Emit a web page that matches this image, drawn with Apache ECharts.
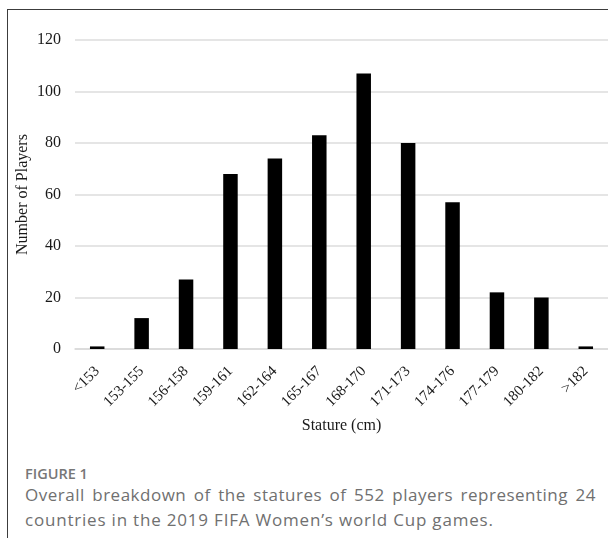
<!DOCTYPE html>
<html>
<head>
<meta charset="utf-8">
<script src="https://cdn.jsdelivr.net/npm/echarts@6/dist/echarts.min.js"></script>
<style>
  html, body { margin: 0; padding: 0; width: 608px; height: 538px; overflow: hidden; background: #fff; }
  #frame { position: absolute; left: 7px; top: 9px; width: 700px; height: 600px; border-left: 1.5px solid #3c3c3c; border-top: 1.5px solid #3c3c3c; }
  #chart { position: absolute; left: 0; top: 0; width: 608px; height: 450px; }
  .cap { position: absolute; font-family: "Open Sans", sans-serif; color: #707070; white-space: nowrap; }
  #fig { left: 25px; top: 465px; font-size: 14.5px; line-height: 17px; font-weight: 600; color: #777; }
  #l1 { left: 25px; top: 482px; width: 571px; font-size: 17px; line-height: 25px; text-align: justify; text-align-last: justify; white-space: normal; letter-spacing: 0.5px; }
  #l2 { left: 25px; top: 507px; font-size: 17px; line-height: 25px; letter-spacing: 0.8px; }
</style>
</head>
<body>
<div id="frame"></div>
<div id="chart"></div>
<div class="cap" id="fig">FIGURE 1</div>
<div class="cap" id="l1">Overall breakdown of the statures of 552 players representing 24</div>
<div class="cap" id="l2">countries in the 2019 FIFA Women’s world Cup games.</div>
<script>
const categories = ['<153', '153-155', '156-158', '159-161', '162-164', '165-167', '168-170', '171-173', '174-176', '177-179', '180-182', '>182'];
const players = [1, 12, 27, 68, 74, 83, 107, 80, 57, 22, 20, 1];
const yTicks = { min: 0, max: 120, interval: 20 };

const chart = echarts.init(document.getElementById('chart'), null, { renderer: 'canvas' });
const serif = '"Liberation Serif", "Times New Roman", serif';
chart.setOption({
  animation: false,
  grid: { left: 75, right: -3, top: 40, bottom: 101, containLabel: false },
  xAxis: {
    type: 'category',
    data: categories,
    name: 'Stature (cm)',
    nameLocation: 'middle',
    nameGap: 69,
    nameMoveOverlap: false,
    nameTextStyle: { fontFamily: serif, fontSize: 16, color: '#1a1a1a' },
    axisLine: { show: true, lineStyle: { color: '#d9d9d9', width: 1.5 } },
    axisTick: { show: false },
    axisLabel: { rotate: 45, margin: 20, fontFamily: serif, fontSize: 15, color: '#1a1a1a', interval: 0 }
  },
  yAxis: {
    type: 'value',
    min: yTicks.min, max: yTicks.max, interval: yTicks.interval,
    name: 'Number of Players',
    nameLocation: 'middle',
    nameGap: 44,
    nameMoveOverlap: false,
    nameTextStyle: { fontFamily: serif, fontSize: 16, color: '#1a1a1a' },
    axisLine: { show: false },
    axisTick: { show: false },
    axisLabel: { margin: 14, fontFamily: serif, fontSize: 16, color: '#1a1a1a' },
    splitLine: { lineStyle: { color: '#dcdcdc', width: 1.5 } }
  },
  series: [{
    type: 'bar',
    data: players,
    barWidth: 14.5,
    itemStyle: { color: '#000' }
  }]
});
</script>
</body>
</html>
